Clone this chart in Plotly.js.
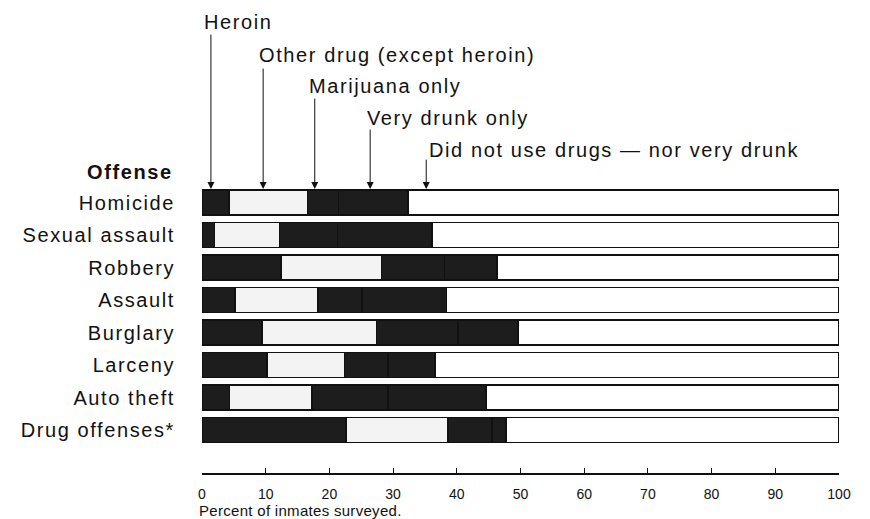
<!DOCTYPE html>
<html>
<head>
<meta charset="utf-8">
<script src="https://cdn.plot.ly/plotly-3.0.1.min.js"></script>
<style>
  html, body { margin: 0; padding: 0; background: #fff; }
  #chart { width: 870px; height: 519px; }
  .ytick text, text.annotation-text { letter-spacing: 1.6px; }
  text.annotation-text[data-unformatted^="Percent"] { letter-spacing: 0.3px; }
</style>
</head>
<body>
<div id="chart"></div>
<script>
// ---- Data (percent of inmates surveyed) ----
const offenses = ['Homicide', 'Sexual assault', 'Robbery', 'Assault', 'Burglary', 'Larceny', 'Auto theft', 'Drug offenses*'];
const heroin     = [4.2, 2.0, 12.4, 5.2, 9.4, 10.2, 4.3, 22.6];
const otherDrug  = [12.4, 10.2, 15.8, 13.0, 18.0, 12.2, 13.0, 16.0];
const marijuana  = [4.8, 9.1, 9.9, 6.9, 12.8, 6.8, 11.9, 6.9];
const veryDrunk  = [10.9, 14.8, 8.2, 13.3, 9.4, 7.4, 15.4, 2.2];
const noUse      = [67.7, 63.9, 53.7, 61.6, 50.4, 63.4, 55.4, 52.3];
const seriesNames = ['Heroin', 'Other drug (except heroin)', 'Marijuana only', 'Very drunk only', 'Did not use drugs \u2014 nor very drunk'];
const xTicks = [0, 10, 20, 30, 40, 50, 60, 70, 80, 90, 100];

// ---- Styling / layout helpers ----
const seriesValues = [heroin, otherDrug, marijuana, veryDrunk, noUse];
const seriesColors = ['#1d1d1d', '#f3f3f3', '#1d1d1d', '#1d1d1d', '#ffffff'];
const arrowX   = [1.4, 9.6, 17.7, 26.4, 35.2];      // where each key arrow points (x units)
const labelX   = [0.0, 8.6, 16.5, 25.6, 35.3];      // left edge of key text (x units)
const labelPy  = [22, 55, 86, 118, 150];            // key text centre, page pixels
const arrowTop = [33, 67, 97, 128, 158];            // arrow tail, page pixels
const plotTop = 186, tipPy = 189;
const tipY = -0.415;

const traces = seriesValues.map((vals, i) => ({
  type: 'bar',
  orientation: 'h',
  name: seriesNames[i],
  y: offenses,
  x: vals,
  marker: { color: seriesColors[i], line: { color: '#111', width: 1.5 } },
  hoverinfo: 'x+name'
}));

const font = { family: '"Liberation Sans", Arial, sans-serif', color: '#111' };
const annotations = [];
// axis title (left aligned under axis)
annotations.push({
  xref: 'paper', yref: 'paper', x: 0, y: 0, xanchor: 'left', yanchor: 'middle',
  xshift: -5, yshift: -37, showarrow: false,
  text: 'Percent of inmates surveyed.', font: Object.assign({}, font, { size: 15 })
});
// Offense header
annotations.push({
  xref: 'paper', yref: 'paper', x: 0, y: 1, xanchor: 'right', yanchor: 'middle',
  xshift: -27, yshift: plotTop - 172, showarrow: false,
  text: '<b>Offense</b>', font: Object.assign({}, font, { size: 20 })
});
seriesNames.forEach((name, i) => {
  annotations.push({
    xref: 'x', yref: 'paper', x: labelX[i], y: 1, xanchor: 'left', yanchor: 'middle',
    yshift: plotTop - labelPy[i], showarrow: false, text: name,
    font: Object.assign({}, font, { size: 20 })
  });
  annotations.push({
    xref: 'x', yref: 'y', x: arrowX[i], y: tipY, text: '', showarrow: true,
    axref: 'pixel', ayref: 'pixel', ax: 0, ay: -(tipPy - arrowTop[i]),
    arrowhead: 2, arrowsize: 1.4, arrowwidth: 1, arrowcolor: '#111', standoff: 0
  });
});

const layout = {
  width: 870, height: 519,
  margin: { l: 202, r: 31, t: plotTop, b: 46 },
  paper_bgcolor: '#fff', plot_bgcolor: '#fff',
  barmode: 'stack', bargap: 0.23,
  showlegend: false,
  font: font,
  xaxis: {
    range: [0, 100], tickvals: xTicks, ticktext: xTicks.map(String),
    showgrid: false, zeroline: false, showline: true, linecolor: '#111', linewidth: 1.5,
    ticks: 'inside', ticklen: 5, tickcolor: '#111', tickwidth: 1,
    tickfont: Object.assign({}, font, { size: 14 }), ticklabelstandoff: 8,
    fixedrange: true
  },
  yaxis: {
    type: 'category', categoryorder: 'array', categoryarray: offenses,
    range: [8.32, -0.51], autorange: false,
    showgrid: false, zeroline: false, showline: false, ticks: '',
    tickfont: Object.assign({}, font, { size: 20 }), ticklabelstandoff: 26,
    fixedrange: true
  },
  annotations: annotations
};

Plotly.newPlot('chart', traces, layout, { displayModeBar: false, staticPlot: true });
</script>
</body>
</html>
